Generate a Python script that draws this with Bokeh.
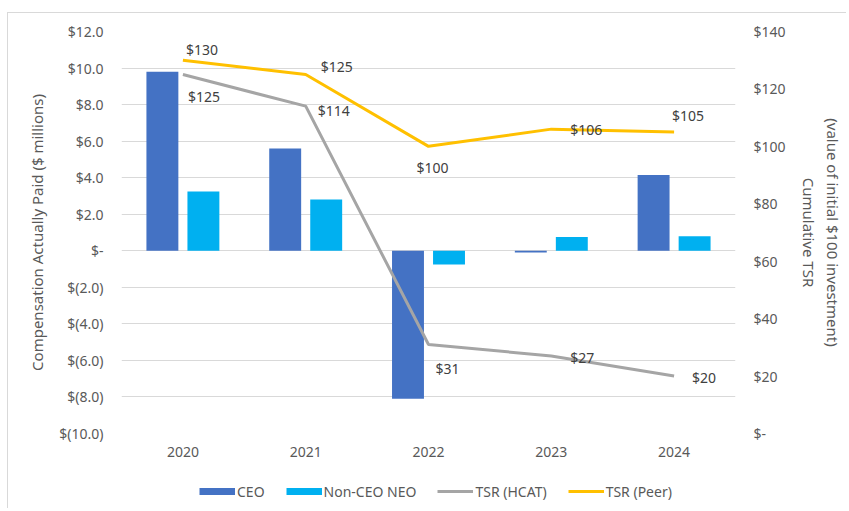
from bokeh.plotting import figure
from bokeh.models import (ColumnDataSource, FactorRange, Range1d, LinearAxis, FixedTicker,
                          LabelSet, Legend, LegendItem)
from bokeh.layouts import column
from bokeh.core.properties import value
from bokeh.transform import dodge
from bokeh.embed import file_html
from bokeh.resources import INLINE

# ---- data ----
years = ["2020", "2021", "2022", "2023", "2024"]
ceo = [9.8, 5.6, -8.1, -0.1, 4.15]
non_ceo = [3.25, 2.8, -0.75, 0.75, 0.8]
tsr_hcat = [125, 114, 31, 27, 20]
tsr_peer = [130, 125, 100, 106, 105]

left_ticks = [-10, -8, -6, -4, -2, 0, 2, 4, 6, 8, 10, 12]
left_tick_labels = ["$(10.0)", "$(8.0)", "$(6.0)", "$(4.0)", "$(2.0)", "$-",
                    "$2.0", "$4.0", "$6.0", "$8.0", "$10.0", "$12.0"]
right_ticks = [0, 20, 40, 60, 80, 100, 120, 140]
right_tick_labels = ["$-", "$20", "$40", "$60", "$80", "$100", "$120", "$140"]
series_names = ["CEO", "Non-CEO NEO", "TSR (HCAT)", "TSR (Peer)"]

# ---- styles ----
FONT = "Noto Sans"
TXT = "#595959"
C_CEO = "#4472C4"
C_NEO = "#00B0F0"
C_HCAT = "#A5A5A5"
C_PEER = "#FFC000"
# label offsets (screen px) for data labels
peer_dx = [3, 15, -12, 19, -2]
peer_dy = [11, 8, -21, 0, 17]
hcat_dx = [5, 12, 7, 19, 18]
hcat_dy = [-22, -4, -24, -2, -1]

src = ColumnDataSource(dict(
    years=years, ceo=ceo, non_ceo=non_ceo, hcat=tsr_hcat, peer=tsr_peer,
    hcat_txt=["$" + str(v) for v in tsr_hcat],
    peer_txt=["$" + str(v) for v in tsr_peer],
    peer_dx=peer_dx, peer_dy=peer_dy, hcat_dx=hcat_dx, hcat_dy=hcat_dy,
))

W, H1, H2 = 838, 457, 38
p = figure(width=W, height=H1, x_range=FactorRange(*years, range_padding=0),
           y_range=Range1d(-10, 12), output_backend="svg", toolbar_location=None,
           min_border_left=113, min_border_right=111, min_border_top=18, min_border_bottom=37)
p.extra_y_ranges = {"tsr": Range1d(0, 140)}
p.outline_line_color = None
p.background_fill_color = "white"
p.border_fill_color = "white"

r_ceo = p.vbar(x=dodge("years", -0.167, range=p.x_range), top="ceo", width=0.26,
               source=src, fill_color=C_CEO, line_color=None)
r_neo = p.vbar(x=dodge("years", 0.167, range=p.x_range), top="non_ceo", width=0.26,
               source=src, fill_color=C_NEO, line_color=None)
r_hcat = p.line(x="years", y="hcat", source=src, y_range_name="tsr",
                line_color=C_HCAT, line_width=3)
r_peer = p.line(x="years", y="peer", source=src, y_range_name="tsr",
                line_color=C_PEER, line_width=3)

for txt, yname, dx, dy in (("peer_txt", "peer", "peer_dx", "peer_dy"),
                           ("hcat_txt", "hcat", "hcat_dx", "hcat_dy")):
    ls = LabelSet(x="years", y=yname, text=txt, y_range_name="tsr", source=src,
                  x_offset=dx, y_offset=dy, text_align="left", text_baseline="middle",
                  text_font=value(FONT), text_font_size="14px", text_color="#404040")
    p.add_layout(ls)

# left axis
ax = p.yaxis[0]
ax.ticker = FixedTicker(ticks=left_ticks)
ax.major_label_overrides = {t: l for t, l in zip(left_ticks, left_tick_labels)}
ax.axis_label = "Compensation Actually Paid ($ millions)"

# right axis (line order chosen so "Cumulative TSR" sits nearer the ticks)
rax = LinearAxis(y_range_name="tsr", ticker=FixedTicker(ticks=right_ticks))
rax.major_label_overrides = {t: l for t, l in zip(right_ticks, right_tick_labels)}
rax.axis_label = "(value of initial $100 investment)\nCumulative TSR"
p.add_layout(rax, "right")

for a in (ax, rax, p.xaxis[0]):
    a.axis_line_color = None
    a.major_tick_line_color = None
    a.minor_tick_line_color = None
    a.major_tick_out = 0
    a.major_tick_in = 0
    a.major_label_text_font = FONT
    a.major_label_text_font_size = "14px"
    a.major_label_text_color = TXT
    a.axis_label_text_font = FONT
    a.axis_label_text_font_size = "15px"
    a.axis_label_text_font_style = "normal"
    a.axis_label_text_color = TXT
ax.major_label_standoff = 18
ax.axis_label_standoff = 9
rax.major_label_standoff = 18
rax.axis_label_standoff = 10
p.xaxis[0].major_label_standoff = 13

p.ygrid.ticker = FixedTicker(ticks=left_ticks)
p.ygrid.grid_line_color = "#d9d9d9"
p.xgrid.grid_line_color = None

# ---- legend strip (separate figure below the chart; its series lie outside its view) ----
q = figure(width=W, height=H2, x_range=p.x_range, y_range=Range1d(1000, 1001),
           output_backend="svg", toolbar_location=None,
           x_axis_location=None, y_axis_location=None,
           min_border_left=0, min_border_right=0, min_border_top=0, min_border_bottom=0)
q.outline_line_color = None
q.grid.grid_line_color = None
q.background_fill_color = "white"
q.border_fill_color = "white"
lr_ceo = q.line(x="years", y="ceo", source=src, line_color=C_CEO, line_width=7)
lr_neo = q.line(x="years", y="non_ceo", source=src, line_color=C_NEO, line_width=7)
lr_hcat = q.line(x="years", y="hcat", source=src, line_color=C_HCAT, line_width=3)
lr_peer = q.line(x="years", y="peer", source=src, line_color=C_PEER, line_width=3)

legend = Legend(items=[LegendItem(label=n, renderers=[r]) for n, r in
                       zip(series_names, [lr_ceo, lr_neo, lr_hcat, lr_peer])],
                orientation="horizontal", location=(78, 7))
legend.border_line_color = None
legend.background_fill_alpha = 0
legend.padding = 0
legend.margin = 0
legend.spacing = 21
legend.glyph_width = 36
legend.glyph_height = 20
legend.label_height = 20
legend.label_standoff = 2
legend.label_text_font = FONT
legend.label_text_font_size = "14px"
legend.label_text_color = TXT
q.add_layout(legend, "center")

layout = column(p, q, spacing=0)
layout.styles = {"margin-left": "7px", "margin-top": "12px",
                 "border-left": "1px solid #d9d9d9", "border-top": "1px solid #d9d9d9"}
open("out.html", "w").write(file_html(layout, INLINE))
